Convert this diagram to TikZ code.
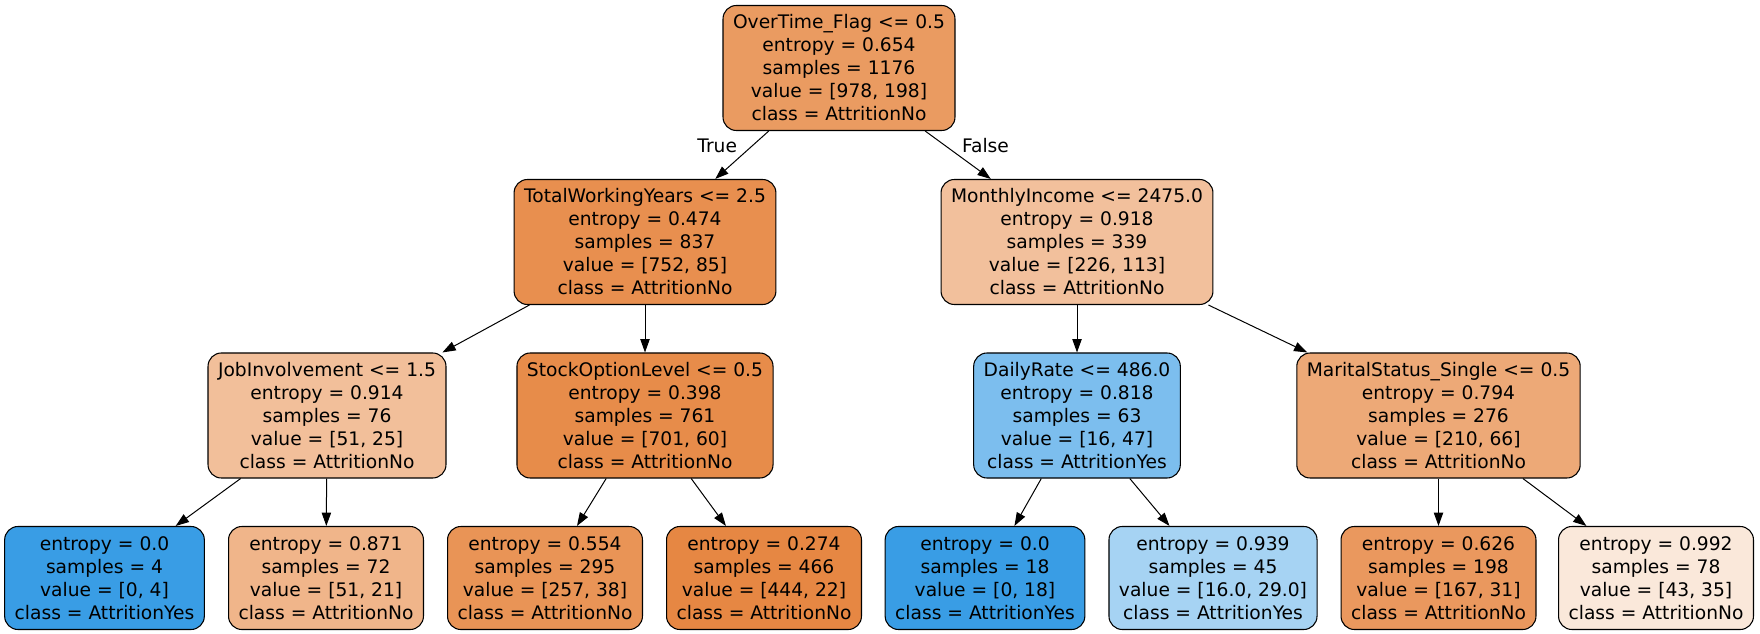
\documentclass[tikz,border=0pt]{standalone}
\usepackage{fontspec}
\setmainfont{DejaVu Sans}
\usetikzlibrary{arrows.meta}

% node colours (class mix)
\definecolor{overtimecol}{RGB}{234,155,97}
\definecolor{workyearscol}{RGB}{232,143,79}
\definecolor{incomecol}{RGB}{242,192,156}
\definecolor{jobinvcol}{RGB}{242,191,154}
\definecolor{stockcol}{RGB}{231,140,74}
\definecolor{dailycol}{RGB}{124,190,238}
\definecolor{maritalcol}{RGB}{237,169,119}
\definecolor{yescol}{RGB}{57,157,229}
\definecolor{leafbcol}{RGB}{240,181,138}
\definecolor{leafccol}{RGB}{233,148,86}
\definecolor{leafdcol}{RGB}{230,135,67}
\definecolor{leaffcol}{RGB}{166,211,243}
\definecolor{leafgcol}{RGB}{234,152,94}
\definecolor{leafhcol}{RGB}{250,232,218}

\begin{document}
\begin{tikzpicture}[x=0.75pt, y=-0.75pt,
    every node/.style={font=\fontsize{14}{17.25}\selectfont},
    split/.style={draw, line width=0.8pt, rounded corners=10pt, align=center,
        inner xsep=7.5pt, minimum height=93.75pt},
    leaf/.style={split, minimum height=77.25pt},
    edgelbl/.style={inner sep=0pt},
    >={Triangle[length=10pt,width=7pt]}]
            \useasboundingbox (0,0) rectangle (1760,634);
            % splits
            \node[split, fill=overtimecol] (overtime) at (839,68) {OverTime\_Flag <= 0.5\\entropy = 0.654\\samples = 1176\\value = [978, 198]\\class = AttritionNo};
            \node[split, fill=workyearscol] (workyears) at (645,242) {TotalWorkingYears <= 2.5\\entropy = 0.474\\samples = 837\\value = [752, 85]\\class = AttritionNo};
            \node[split, fill=incomecol] (income) at (1077,242) {MonthlyIncome <= 2475.0\\entropy = 0.918\\samples = 339\\value = [226, 113]\\class = AttritionNo};
            \node[split, fill=jobinvcol] (jobinv) at (327,415.5) {JobInvolvement <= 1.5\\entropy = 0.914\\samples = 76\\value = [51, 25]\\class = AttritionNo};
            \node[split, fill=stockcol] (stock) at (645,415.5) {StockOptionLevel <= 0.5\\entropy = 0.398\\samples = 761\\value = [701, 60]\\class = AttritionNo};
            \node[split, fill=dailycol] (daily) at (1077,415.5) {DailyRate <= 486.0\\entropy = 0.818\\samples = 63\\value = [16, 47]\\class = AttritionYes};
            \node[split, fill=maritalcol] (marital) at (1438.5,415.5) {MaritalStatus\_Single <= 0.5\\entropy = 0.794\\samples = 276\\value = [210, 66]\\class = AttritionNo};
            % leaves
            \node[leaf, fill=yescol] (leafa) at (104.5,578) {entropy = 0.0\\samples = 4\\value = [0, 4]\\class = AttritionYes};
            \node[leaf, fill=leafbcol] (leafb) at (326,578) {entropy = 0.871\\samples = 72\\value = [51, 21]\\class = AttritionNo};
            \node[leaf, fill=leafccol] (leafc) at (545,578) {entropy = 0.554\\samples = 295\\value = [257, 38]\\class = AttritionNo};
            \node[leaf, fill=leafdcol] (leafd) at (764,578) {entropy = 0.274\\samples = 466\\value = [444, 22]\\class = AttritionNo};
            \node[leaf, fill=yescol] (leafe) at (985,578) {entropy = 0.0\\samples = 18\\value = [0, 18]\\class = AttritionYes};
            \node[leaf, fill=leaffcol] (leaff) at (1213,578) {entropy = 0.939\\samples = 45\\value = [16.0, 29.0]\\class = AttritionYes};
            \node[leaf, fill=leafgcol] (leafg) at (1438.5,578) {entropy = 0.626\\samples = 198\\value = [167, 31]\\class = AttritionNo};
            \node[leaf, fill=leafhcol] (leafh) at (1656,578) {entropy = 0.992\\samples = 78\\value = [43, 35]\\class = AttritionNo};
            % edges
            \draw[->, line width=0.75pt] (overtime) -- node[edgelbl, pos=0.31, anchor=east, xshift=-11pt] {True} (workyears);
            \draw[->, line width=0.75pt] (overtime) -- node[edgelbl, pos=0.31, anchor=west, xshift=12pt] {False} (income);
            \draw[->, line width=0.75pt] (workyears) -- (jobinv);
            \draw[->, line width=0.75pt] (workyears) -- (stock);
            \draw[->, line width=0.75pt] (income) -- (daily);
            \draw[->, line width=0.75pt] (income) -- (marital);
            \draw[->, line width=0.75pt] (jobinv) -- (leafa);
            \draw[->, line width=0.75pt] (jobinv) -- (leafb);
            \draw[->, line width=0.75pt] (stock) -- (leafc);
            \draw[->, line width=0.75pt] (stock) -- (leafd);
            \draw[->, line width=0.75pt] (daily) -- (leafe);
            \draw[->, line width=0.75pt] (daily) -- (leaff);
            \draw[->, line width=0.75pt] (marital) -- (leafg);
            \draw[->, line width=0.75pt] (marital) -- (leafh);
        \end{tikzpicture}
\end{document}
